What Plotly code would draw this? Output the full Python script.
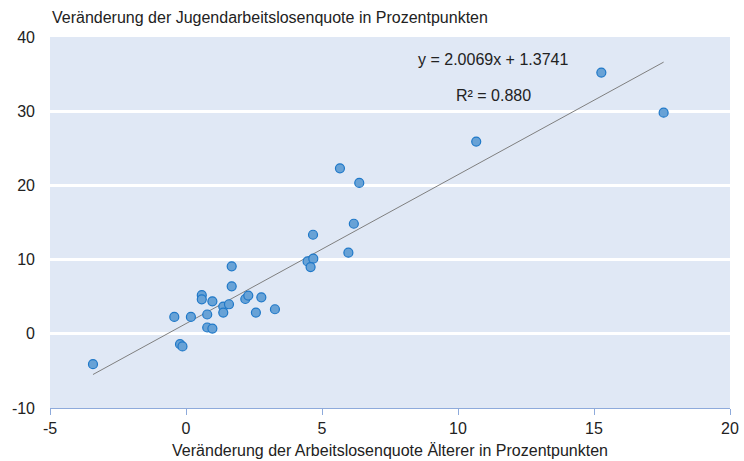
import plotly.graph_objects as go

# Veränderung der Arbeitslosenquote Älterer (x) und Jugendarbeitslosenquote (y)
x_aelter = [-3.42, -0.43, -0.22, -0.13, 0.18, 0.58, 0.58, 0.97, 0.78, 0.78, 0.97,
            1.37, 1.58, 1.37, 1.68, 1.68, 2.18, 2.29, 2.77, 2.57, 3.27,
            4.47, 4.68, 4.58, 4.67, 5.97, 6.17, 6.37, 5.66, 10.67, 15.27, 17.56]
y_jugend = [-4.1, 2.27, -1.4, -1.7, 2.27, 5.2, 4.65, 4.38, 2.6, 0.85, 0.71,
            3.67, 3.98, 2.86, 9.09, 6.4, 4.69, 5.15, 4.92, 2.86, 3.31,
            9.76, 10.12, 8.99, 13.35, 10.93, 14.83, 20.34, 22.3, 25.9, 35.2, 29.8]

x_ticks = [-5, 0, 5, 10, 15, 20]
y_ticks = [-10, 0, 10, 20, 30, 40]

slope = 2.0069
intercept = 1.3741
r2 = 0.880

x_line = [min(x_aelter), max(x_aelter)]
y_line = [slope * v + intercept for v in x_line]

font = "Liberation Sans, Arial, sans-serif"

fig = go.Figure()
fig.add_trace(go.Scatter(x=x_line, y=y_line, mode="lines",
                         line=dict(color="#7f7f7f", width=1), hoverinfo="skip"))
fig.add_trace(go.Scatter(x=x_aelter, y=y_jugend, mode="markers",
                         marker=dict(size=9, color="#68a2d6",
                                     line=dict(color="#1f78c8", width=1.2))))

fig.add_annotation(x=11.29, y=37.0, text=f"y = {slope}x + {intercept}",
                   showarrow=False, font=dict(size=16, color="#222"))
fig.add_annotation(x=11.32, y=32.1, text=f"R² = {r2:.3f}",
                   showarrow=False, font=dict(size=16, color="#222"))
fig.add_annotation(xref="paper", yref="paper", x=0, y=1, yshift=9,
                   xanchor="left", yanchor="bottom", xshift=0,
                   text="Veränderung der Jugendarbeitslosenquote in Prozentpunkten",
                   showarrow=False, font=dict(size=16, color="#222"))

fig.update_layout(
    width=744, height=461,
    margin=dict(l=50, r=14, t=37, b=53),
    paper_bgcolor="white", plot_bgcolor="#e0e8f5",
    showlegend=False,
    font=dict(family=font, size=16, color="#222"),
    xaxis=dict(range=[-5, 20], tickvals=x_ticks,
               ticktext=[str(v) for v in x_ticks],
               showgrid=False, zeroline=False, automargin=False,
               showline=True, linecolor="#8eaadb", linewidth=1,
               ticks="outside", ticklen=6, tickcolor="#8eaadb",
               title=dict(text="Veränderung der Arbeitslosenquote Älterer in Prozentpunkten",
                          standoff=8, font=dict(size=16))),
    yaxis=dict(range=[-10, 40], tickvals=y_ticks,
               ticktext=[str(v) for v in y_ticks],
               showgrid=True, gridcolor="white", gridwidth=3,
               zeroline=False, ticks="", ticklabelstandoff=14, automargin=False),
)

fig.write_html("out.html", config={"displayModeBar": False},
               post_script="document.body.style.margin='0';")
